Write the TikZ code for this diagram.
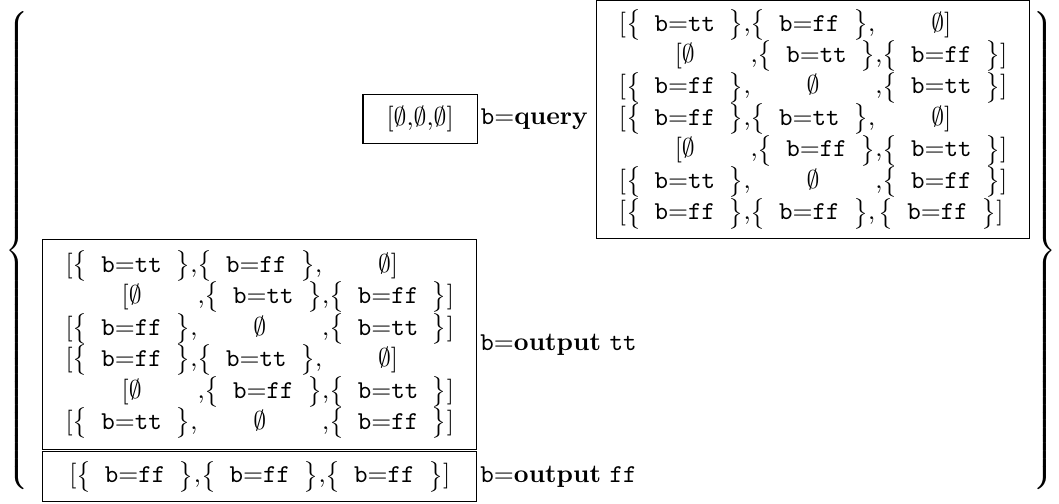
\documentclass[tikz,border=0pt]{standalone}
\usetikzlibrary{positioning}
\tikzset{
    stateBox/.style={draw, rectangle, inner sep=0pt},
    outLabel/.style={inner sep=0pt},
    bigBrace/.style={inner sep=0pt},
}
\renewcommand{\arraystretch}{1.02}
\newcommand{\bset}[1]{$\big\{$\texttt{\ b}=\texttt{#1\ }$\big\}$}
\newcommand{\emptyCell}{$\emptyset$}
\newcommand{\rowsA}{%
    {[}\bset{tt}, & \bset{ff}, & \emptyCell] \\
    {[}\emptyCell & ,\bset{tt} & ,\bset{ff}] \\
    {[}\bset{ff}, & \emptyCell & ,\bset{tt}] \\
    {[}\bset{ff}, & \bset{tt}, & \emptyCell] \\
    {[}\emptyCell & ,\bset{ff} & ,\bset{tt}] \\
    {[}\bset{tt}, & \emptyCell & ,\bset{ff}]}
\newcommand{\rowFF}{{[}\bset{ff}, & \bset{ff}, & \bset{ff}]}

\begin{document}
\begin{tikzpicture}[x=1cm, y=1cm]
    \useasboundingbox (0,0) rectangle (14.476,6.886);

    % outer braces
    \node[bigBrace] (lbrace) at (0.257,3.448) {$\left\{\vrule height 91pt depth 91pt width 0pt\right.$};
    \node[bigBrace] (rbrace) at (14.257,3.448) {$\left.\vrule height 91pt depth 91pt width 0pt\right\}$};

    % query row
    \node[stateBox, minimum width=1.562cm, minimum height=0.667cm] (init) at (5.743,5.257) {{[}\emptyCell,\emptyCell,\emptyCell]};
    \node[outLabel, right=1pt of init] (query) {\texttt{b}=\textbf{query}};
    \node[stateBox, minimum width=5.914cm, minimum height=3.257cm] (queryset) at (11.114,5.257)
        {\begin{tabular}{@{}c@{}c@{}c@{}}\rowsA \\ \rowFF\end{tabular}};

    % output rows
    \node[stateBox, minimum width=5.933cm, minimum height=2.867cm] (outtt) at (3.552,2.175)
        {\begin{tabular}{@{}c@{}c@{}c@{}}\rowsA\end{tabular}};
    \node[stateBox, minimum width=5.933cm, minimum height=0.686cm, below=0.4pt of outtt] (outff)
        {\begin{tabular}{@{}c@{}c@{}c@{}}\rowFF\end{tabular}};
    \node[outLabel, right=1pt of outtt] (outputtt) {\texttt{b}=\textbf{output} \texttt{tt}};
    \node[outLabel, right=1pt of outff] (outputff) {\texttt{b}=\textbf{output} \texttt{ff}};

\end{tikzpicture}
\end{document}
